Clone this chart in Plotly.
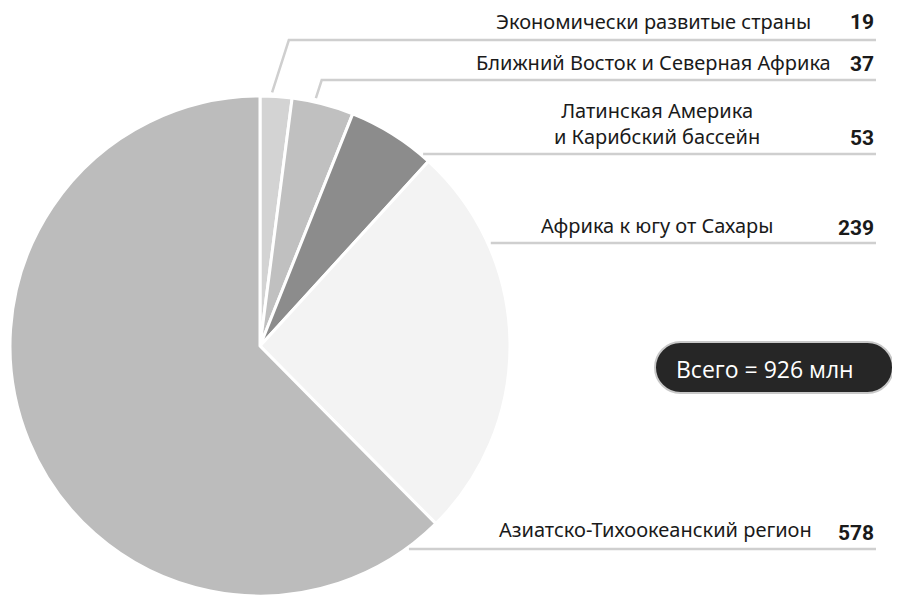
import math
import plotly.graph_objects as go

# ---- data ----
regions = [
    "Экономически развитые страны",
    "Ближний Восток и Северная Африка",
    "Латинская Америка<br>и Карибский бассейн",
    "Африка к югу от Сахары",
    "Азиатско-Тихоокеанский регион",
]
values = [19, 37, 53, 239, 578]
total_text = "Всего = 926 млн"

# ---- style ----
colors = ["#d3d3d3", "#c0c0c0", "#8c8c8c", "#f3f3f3", "#bcbcbc"]
OFF = 8                      # page body margin
FW, FH = 900 - 2 * OFF, 607 - 2 * OFF
CX, CY, R = 260, 346, 250
LINE_COLOR = "#cfcfcf"
LINE_END = 876
line_y = [40, 80, 154, 243, 549]
label_x = [813, 833, 657, 775, 814]
label_anchor = ["right", "right", "center", "right", "right"]
label_y = [21, 62, 123, 226, 529]
num_y = [22, 64, 138, 228, 533]
LABEL_FONT = dict(family="Noto Sans, Open Sans, sans-serif", size=20, color="#1a1a1a")
NUM_FONT = dict(family="Liberation Sans Narrow, Roboto, Arial, sans-serif", size=21, color="#1a1a1a")


def px(x):
    return (x - OFF) / FW


def py(y):
    return 1 - (y - OFF) / FH


fig = go.Figure()
fig.add_trace(go.Pie(
    values=values,
    labels=[r.replace("<br>", " ") for r in regions],
    sort=False,
    direction="clockwise",
    rotation=0,
    marker=dict(colors=colors, line=dict(color="white", width=3)),
    textinfo="none",
    hoverinfo="label+value",
    showlegend=False,
    domain=dict(x=[px(CX - R), px(CX + R)], y=[py(CY + R), py(CY - R)]),
))

total = sum(values)
shapes = []
annotations = []
cum = 0
for i, v in enumerate(values):
    ly = line_y[i]
    if i < 2:
        theta = 2 * math.pi * (cum + 0.37 * v) / total
        sx = CX + 254 * math.sin(theta)
        sy = CY - 254 * math.cos(theta)
        ex = sx + 0.32 * (sy - ly)
        path = f"M {px(sx)},{py(sy)} L {px(ex)},{py(ly)} L {px(LINE_END)},{py(ly)}"
    else:
        sx = CX + math.sqrt(max(R * R - (ly - CY) ** 2, 0)) + 3
        path = f"M {px(sx)},{py(ly)} L {px(LINE_END)},{py(ly)}"
    shapes.append(dict(type="path", xref="paper", yref="paper", path=path,
                       line=dict(color=LINE_COLOR, width=2.5)))
    cum += v

    annotations.append(dict(
        x=px(label_x[i]), y=py(label_y[i]), xref="paper", yref="paper",
        text=regions[i], showarrow=False, xanchor=label_anchor[i], yanchor="middle",
        align="center", font=LABEL_FONT,
    ))
    annotations.append(dict(
        x=px(LINE_END), y=py(num_y[i]), xref="paper", yref="paper",
        text=f"<b>{v}</b>", showarrow=False, xanchor="right", yanchor="middle",
        font=NUM_FONT,
    ))

# pill for total
x0, x1, y0, y1 = 655, 893, 342, 393
r = (y1 - y0) / 2
k = 0.5523 * r
pill = (
    f"M {px(x0 + r)},{py(y0)} L {px(x1 - r)},{py(y0)} "
    f"C {px(x1 - r + k)},{py(y0)} {px(x1)},{py(y0 + r - k)} {px(x1)},{py(y0 + r)} "
    f"C {px(x1)},{py(y0 + r + k)} {px(x1 - r + k)},{py(y1)} {px(x1 - r)},{py(y1)} "
    f"L {px(x0 + r)},{py(y1)} "
    f"C {px(x0 + r - k)},{py(y1)} {px(x0)},{py(y1 - r + k)} {px(x0)},{py(y1 - r)} "
    f"C {px(x0)},{py(y0 + r - k)} {px(x0 + r - k)},{py(y0)} {px(x0 + r)},{py(y0)} Z"
)
shapes.append(dict(type="path", xref="paper", yref="paper", path=pill,
                   fillcolor="#262626", line=dict(color="#c8c8c8", width=2)))
annotations.append(dict(
    x=px(765), y=py(369), xref="paper", yref="paper", text=total_text,
    showarrow=False, xanchor="center", yanchor="middle",
    font=dict(family="Open Sans, Noto Sans, sans-serif", size=23, color="white"),
))

fig.update_layout(
    width=FW, height=FH,
    margin=dict(l=0, r=0, t=0, b=0),
    paper_bgcolor="white", plot_bgcolor="white",
    shapes=shapes, annotations=annotations,
)

fig.write_html("out.html")
